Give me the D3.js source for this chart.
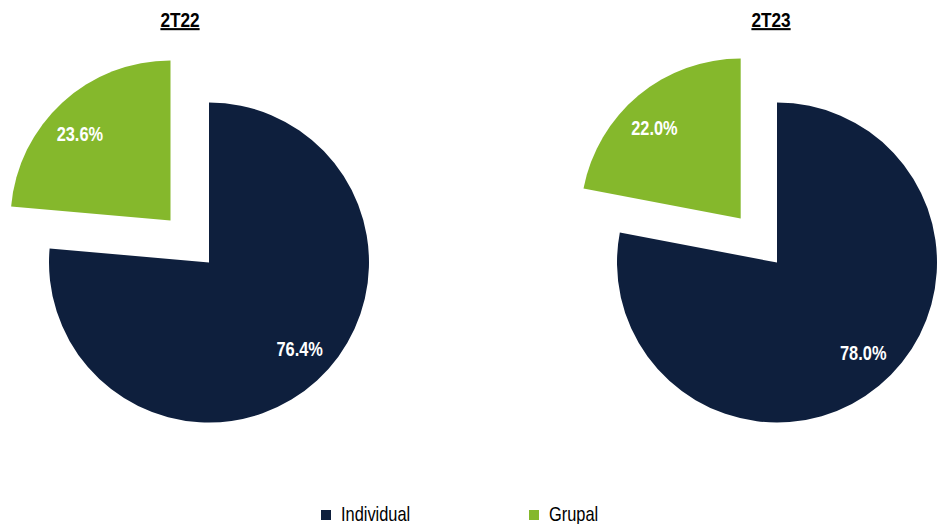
<!DOCTYPE html>
<html lang="en">
<head>
  <meta charset="UTF-8">
  <title>Individual vs Grupal</title>
  <script src="https://d3js.org/d3.v7.min.js"></script>
  <style>
    body { margin: 0; background: #fff; }
    text { font-family: "Liberation Sans Narrow", "Arial Narrow", "Liberation Sans", Arial, sans-serif; }
  </style>
</head>
<body>
  <div id="chart"></div>
  <script>
    // Data
    const periods = ["2T22", "2T23"];
    const categories = ["Individual", "Grupal"];
    const values2T22 = [76.4, 23.6];
    const values2T23 = [78.0, 22.0];
    const colors = ["#0e1f3d", "#85b82c"];

    const width = 945, height = 524;
    const radius = 160;
    const explode = 57;
    const narrow = 0.82; // no Arial Narrow here, squeeze the text instead

    const svg = d3.select("#chart")
      .append("svg")
      .attr("width", width)
      .attr("height", height);

    // pie centres
    const cx = d3.scalePoint().domain(periods).range([209, 777]);
    const cy = 262.5;
    const titleX = d3.scalePoint().domain(periods).range([180, 771]);

    const pie = d3.pie().sort(null).value(d => d);
    const arc = d3.arc().innerRadius(0).outerRadius(radius);
    const labelR = 125;

    const color = d3.scaleOrdinal().domain(categories).range(colors);

    [values2T22, values2T23].forEach((vals, i) => {
      const p = periods[i];
      const g = svg.append("g")
        .attr("transform", `translate(${cx(p)},${cy})`);

      const arcs = pie(vals);

      const slice = g.selectAll("g.slice")
        .data(arcs)
        .join("g")
        .attr("class", "slice")
        .attr("transform", (d, j) => {
          if (j === 0) return null;
          const mid = (d.startAngle + d.endAngle) / 2;
          return `translate(${Math.sin(mid) * explode},${-Math.cos(mid) * explode})`;
        });

      slice.append("path")
        .attr("d", arc)
        .attr("fill", (d, j) => color(categories[j]));

      slice.append("text")
        .attr("transform", d => {
          const a = (d.startAngle + d.endAngle) / 2 - 0.07;
          return `translate(${Math.sin(a) * labelR},${-Math.cos(a) * labelR}) scale(${narrow},1)`;
        })
        .attr("text-anchor", "middle")
        .attr("dy", "0.35em")
        .attr("fill", "#fff")
        .attr("font-weight", "bold")
        .attr("font-size", "20px")
        .text(d => d.value.toFixed(1) + "%");

      // Title
      svg.append("text")
        .attr("transform", `translate(${titleX(p)},27) scale(${narrow},1)`)
        .attr("text-anchor", "middle")
        .attr("font-weight", "bold")
        .attr("font-size", "21px")
        .attr("text-decoration", "underline")
        .attr("fill", "#000")
        .text(p);
    });

    // Legend
    const legendX = d3.scaleOrdinal().domain(categories).range([321, 529]);
    const legend = svg.append("g");
    const item = legend.selectAll("g")
      .data(categories)
      .join("g")
      .attr("transform", d => `translate(${legendX(d)},510)`);

    item.append("rect")
      .attr("width", 10)
      .attr("height", 10)
      .attr("fill", d => color(d));

    item.append("text")
      .attr("transform", `translate(20,11) scale(${narrow},1)`)
      .attr("font-size", "20px")
      .attr("fill", "#000")
      .text(d => d);
  </script>
</body>
</html>
